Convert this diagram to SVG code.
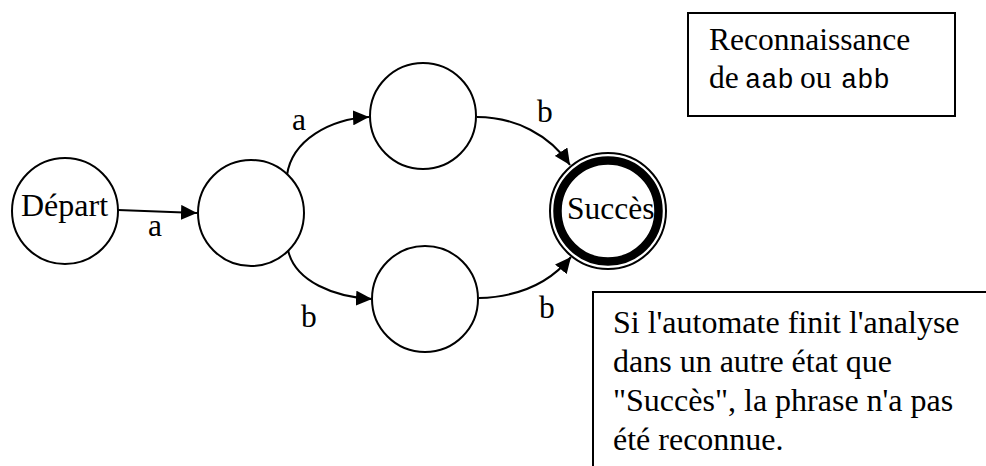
<svg xmlns="http://www.w3.org/2000/svg" width="986" height="466" viewBox="0 0 986 466">
  <defs>
    <marker id="arrow" markerUnits="userSpaceOnUse" markerWidth="17" markerHeight="15" refX="16" refY="7.5" orient="auto">
      <path d="M0,0 L16,7.5 L0,15 z" fill="#000"/>
    </marker>
    <style>
      .state { fill: #fff; stroke: #000; stroke-width: 2; }
      .edge { fill: none; stroke: #000; stroke-width: 2; marker-end: url(#arrow); }
      .lbl { font-family: "Liberation Serif", "Times New Roman", serif; font-size: 31.5px; fill: #000; }
      .big { font-size: 32px; }
      .mono { font-family: "Liberation Mono", "Courier New", monospace; font-size: 27px; fill: #000; }
      .note { fill: #fff; stroke: #000; stroke-width: 2; }
    </style>
  </defs>

  <rect width="986" height="466" fill="#fff"/>

  <!-- transitions -->
  <g id="edges">
    <path class="edge" d="M118,210 L197,213"/>
    <path class="edge" d="M287,175 C292,140 330,119 369,117"/>
    <path class="edge" d="M477,117 C515,117 550,135 570,165"/>
    <path class="edge" d="M288,250 C295,282 335,297 372,299"/>
    <path class="edge" d="M479,298 C515,297 548,285 571,257"/>
    <text class="lbl" x="148" y="236">a</text>
    <text class="lbl" x="292" y="130">a</text>
    <text class="lbl" x="537" y="122">b</text>
    <text class="lbl" x="301" y="327">b</text>
    <text class="lbl" x="539" y="318">b</text>
  </g>

  <!-- states -->
  <g id="depart">
    <circle class="state" cx="65" cy="211" r="53"/>
    <text class="lbl big" x="21" y="216">Départ</text>
  </g>
  <g id="q1">
    <circle class="state" cx="251" cy="213" r="53"/>
  </g>
  <g id="q2">
    <circle class="state" cx="423" cy="116" r="53"/>
  </g>
  <g id="q3">
    <circle class="state" cx="425" cy="299" r="53"/>
  </g>
  <g id="succes">
    <circle cx="608" cy="211" r="58" fill="#fff" stroke="#000" stroke-width="2"/>
    <circle cx="608" cy="211" r="50.5" fill="none" stroke="#000" stroke-width="8.5"/>
    <text class="lbl" x="567" y="219">Succès</text>
  </g>

  <!-- notes -->
  <g id="title-note">
    <rect class="note" x="688" y="13" width="267" height="103"/>
    <text class="lbl" x="709" y="50">Reconnaissance</text>
    <text class="lbl" x="709" y="88">de</text>
    <text class="mono" x="745" y="88">aab</text>
    <text class="lbl" x="800" y="88">ou</text>
    <text class="mono" x="841" y="88">abb</text>
  </g>
  <g id="failure-note">
    <rect class="note" x="593" y="292" width="420" height="200"/>
    <text class="lbl big" x="613" y="333">Si l'automate finit l'analyse</text>
    <text class="lbl big" x="613" y="372">dans un autre état que</text>
    <text class="lbl big" x="613" y="411">"Succès", la phrase n'a pas</text>
    <text class="lbl big" x="613" y="450">été reconnue.</text>
  </g>
</svg>
